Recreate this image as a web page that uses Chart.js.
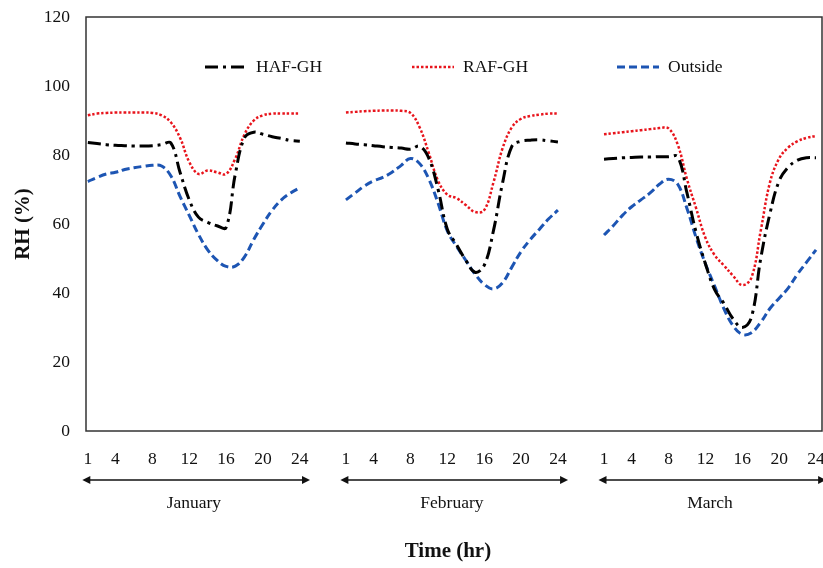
<!DOCTYPE html>
<html>
<head>
<meta charset="utf-8">
<script src="https://cdn.jsdelivr.net/npm/chart.js@4.4.0/dist/chart.umd.min.js"></script>
<style>
    html, body { margin: 0; padding: 0; background: #fff; }
</style>
</head>
<body>
<canvas id="rhChart" width="823" height="568"></canvas>
<script>
// categories
const months = ['January', 'February', 'March'];
const hours = [1, 2, 3, 4, 5, 6, 7, 8, 9, 10, 11, 12, 13, 14, 15, 16, 17, 18, 19, 20, 21, 22, 23, 24];
const hourTicks = [1, 4, 8, 12, 16, 20, 24];

// RH (%) per hour
const hafJan = [83.6, 83.3, 83.0, 82.8, 82.7, 82.6, 82.6, 82.7, 83.0, 83.5, 75.0, 67.0, 62.0, 60.5, 59.5, 59.0, 74.5, 85.0, 86.6, 86.0, 85.3, 84.8, 84.2, 84.0];
const hafFeb = [83.5, 83.2, 83.0, 82.7, 82.4, 82.2, 82.0, 81.7, 82.5, 79.0, 70.0, 58.5, 54.0, 49.5, 46.0, 48.0, 58.0, 72.0, 82.5, 84.0, 84.3, 84.4, 84.1, 83.8];
const hafMar = [78.8, 79.0, 79.2, 79.3, 79.4, 79.4, 79.5, 79.5, 79.5, 69.0, 57.5, 48.5, 41.0, 37.0, 32.5, 30.0, 33.0, 50.0, 63.0, 72.5, 76.5, 78.5, 79.2, 79.2];

const rafJan = [91.5, 92.0, 92.2, 92.3, 92.3, 92.3, 92.3, 92.2, 91.5, 89.5, 85.0, 78.0, 74.5, 75.5, 75.0, 74.5, 79.0, 86.0, 90.0, 91.5, 92.0, 92.0, 92.0, 92.0];
const rafFeb = [92.3, 92.5, 92.7, 92.8, 92.9, 92.9, 92.8, 92.2, 88.0, 80.5, 72.5, 68.5, 67.5, 65.5, 63.5, 64.0, 72.0, 82.0, 88.0, 90.5, 91.3, 91.7, 92.0, 92.0];
const rafMar = [86.0, 86.3, 86.6, 86.9, 87.2, 87.5, 87.8, 87.7, 83.0, 73.0, 64.5, 56.0, 51.0, 48.0, 45.0, 42.3, 44.5, 58.0, 72.0, 79.0, 82.2, 84.0, 85.0, 85.5];

const outJan = [72.3, 73.5, 74.5, 75.0, 75.8, 76.3, 76.7, 77.0, 76.8, 74.0, 68.0, 62.5, 57.0, 52.5, 49.5, 47.7, 47.8, 50.5, 55.5, 60.0, 64.0, 67.0, 69.0, 70.5];
const outFeb = [67.0, 69.0, 71.0, 72.5, 73.5, 75.0, 77.0, 79.0, 77.5, 73.0, 66.0, 58.0, 53.5, 49.5, 45.5, 42.5, 41.2, 43.0, 47.5, 52.0, 55.5, 58.5, 61.5, 64.0];
const outMar = [56.8, 59.5, 62.5, 65.0, 67.0, 69.0, 71.5, 73.0, 71.5, 64.5, 56.0, 48.5, 42.0, 35.5, 30.5, 28.0, 28.5, 31.5, 35.5, 38.5, 41.5, 45.5, 49.0, 52.5];

// each month panel takes 24 hour slots plus a 4 slot gap
const monthSlots = 28;
const serifFont = "'Liberation Serif', 'Times New Roman', serif";

function panelPoints(byMonth) {
    const pts = [];
    byMonth.forEach((vals, m) => {
        hours.forEach((h, i) => pts.push({ x: m * monthSlots + h - 1, y: vals[i] }));
        if (m < byMonth.length - 1) pts.push({ x: m * monthSlots + 25, y: null });
    });
    return pts;
}

const decor = {
    id: 'decor',
    afterDatasetsDraw(chart) {
        const ctx = chart.ctx;
        const area = chart.chartArea;
        const xs = chart.scales.x;

        // frame
        ctx.save();
        ctx.strokeStyle = '#333';
        ctx.lineWidth = 1.5;
        ctx.strokeRect(area.left, area.top, area.right - area.left, area.bottom - area.top);

        // legend inside the plot
        const legendX = [205, 412, 617];
        const legendY = 67;
        chart.data.datasets.forEach((ds, i) => {
            ctx.beginPath();
            ctx.setLineDash(ds.borderDash || []);
            ctx.strokeStyle = ds.borderColor;
            ctx.lineWidth = ds.borderWidth;
            ctx.moveTo(legendX[i], legendY);
            ctx.lineTo(legendX[i] + 42, legendY);
            ctx.stroke();
            ctx.setLineDash([]);
            ctx.fillStyle = '#111';
            ctx.font = '17.5px ' + serifFont;
            ctx.textBaseline = 'middle';
            ctx.textAlign = 'left';
            ctx.fillText(ds.label, legendX[i] + 51, legendY);
        });

        // month arrows and names
        const arrowY = 480;
        ctx.strokeStyle = '#111';
        ctx.fillStyle = '#111';
        ctx.lineWidth = 1.5;
        months.forEach((name, m) => {
            const x1 = xs.getPixelForValue(m * monthSlots - 0.6);
            const x2 = xs.getPixelForValue(m * monthSlots + 24.1);
            ctx.beginPath();
            ctx.moveTo(x1 + 4, arrowY);
            ctx.lineTo(x2 - 4, arrowY);
            ctx.stroke();
            ctx.beginPath();
            ctx.moveTo(x1, arrowY);
            ctx.lineTo(x1 + 8, arrowY - 4);
            ctx.lineTo(x1 + 8, arrowY + 4);
            ctx.closePath();
            ctx.fill();
            ctx.beginPath();
            ctx.moveTo(x2, arrowY);
            ctx.lineTo(x2 - 8, arrowY - 4);
            ctx.lineTo(x2 - 8, arrowY + 4);
            ctx.closePath();
            ctx.fill();

            ctx.font = '17.5px ' + serifFont;
            ctx.textAlign = 'center';
            ctx.textBaseline = 'middle';
            ctx.fillText(name, xs.getPixelForValue(m * monthSlots + 11.5), 503);
        });

        // x axis title
        ctx.font = 'bold 21px ' + serifFont;
        ctx.fillText('Time (hr)', xs.getPixelForValue(monthSlots + 11.5) - 4, 552);
        ctx.restore();
    }
};

const ctx = document.getElementById('rhChart').getContext('2d');
new Chart(ctx, {
    type: 'line',
    data: {
        datasets: [
            {
                label: 'HAF-GH',
                data: panelPoints([hafJan, hafFeb, hafMar]),
                borderColor: '#000',
                borderWidth: 3,
                borderDash: [13, 5, 3, 5],
                tension: 0.4
            },
            {
                label: 'RAF-GH',
                data: panelPoints([rafJan, rafFeb, rafMar]),
                borderColor: '#e8141c',
                borderWidth: 2.5,
                borderDash: [2.5, 2],
                tension: 0.4
            },
            {
                label: 'Outside',
                data: panelPoints([outJan, outFeb, outMar]),
                borderColor: '#1d55b3',
                borderWidth: 3,
                borderDash: [8, 4],
                tension: 0.4
            }
        ]
    },
    options: {
        responsive: false,
        animation: false,
        spanGaps: false,
        elements: { point: { radius: 0 } },
        layout: { padding: { top: 17, right: 1, bottom: 0, left: 0 } },
        plugins: {
            legend: { display: false },
            tooltip: { enabled: false }
        },
        scales: {
            x: {
                type: 'linear',
                min: -0.2,
                max: 79.65,
                grid: { display: false },
                border: { display: false },
                afterBuildTicks: (scale) => {
                    const ticks = [];
                    months.forEach((name, m) => {
                        hourTicks.forEach(h => ticks.push({ value: m * monthSlots + h - 1 }));
                    });
                    scale.ticks = ticks;
                },
                afterFit: (scale) => {
                    scale.height = 137;
                    scale.paddingLeft = 0;
                    scale.paddingRight = 0;
                },
                ticks: {
                    autoSkip: false,
                    maxRotation: 0,
                    padding: 10,
                    color: '#111',
                    font: { family: serifFont, size: 17.5 },
                    callback: (value) => String(Math.round(value) % monthSlots + 1)
                }
            },
            y: {
                min: 0,
                max: 120,
                grid: { display: false },
                border: { display: false },
                afterFit: (scale) => {
                    scale.width = 86;
                    scale.paddingTop = 0;
                    scale.paddingBottom = 0;
                },
                title: {
                    display: true,
                    text: 'RH (%)',
                    color: '#111',
                    font: { family: serifFont, size: 21, weight: 'bold' },
                    padding: { top: 11, bottom: 0 }
                },
                ticks: {
                    stepSize: 20,
                    padding: 8,
                    color: '#111',
                    font: { family: serifFont, size: 17.5 }
                }
            }
        }
    },
    plugins: [decor]
});
</script>
</body>
</html>
